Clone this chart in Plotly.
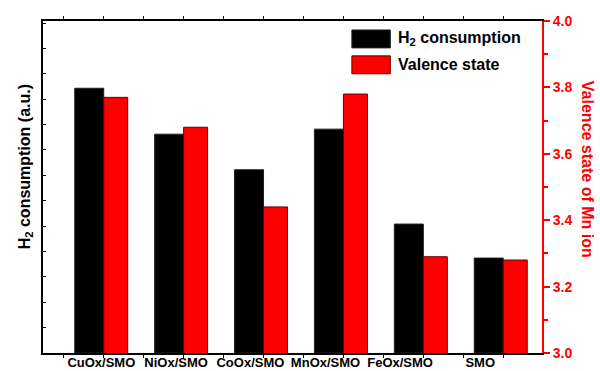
import numpy as np
import plotly.graph_objects as go

# Samples and measured quantities
samples = ["CuOx/SMO", "NiOx/SMO", "CoOx/SMO", "MnOx/SMO", "FeOx/SMO", "SMO"]
h2_consumption = [10.43, 8.62, 7.22, 8.82, 5.08, 3.74]      # arbitrary units
valence_state = [3.77, 3.68, 3.44, 3.78, 3.29, 3.28]        # Mn oxidation state

FONT = "Liberation Sans, Arial, sans-serif"
RED = "#FF0000"

x_pos = np.arange(len(samples))

fig = go.Figure()
fig.add_trace(go.Bar(
    x=x_pos, y=h2_consumption, name="H<sub>2</sub> consumption",
    marker=dict(color="black", line=dict(color="#222", width=1)),
    offset=-0.363, width=0.363, showlegend=False,
))
fig.add_trace(go.Bar(
    x=x_pos, y=valence_state, name="Valence state", yaxis="y2",
    marker=dict(color=RED, line=dict(color="#600", width=1)),
    offset=0.0, width=0.30, showlegend=False,
))

# category labels sit slightly left of each bar pair
label_shift = [-0.03, -0.094, -0.164, -0.224, -0.291, -0.288]
label_pos = [i + s for i, s in enumerate(label_shift)]

xr = [-0.76, 5.485]
fig.update_layout(
    width=600, height=371,
    margin=dict(l=43, r=58, t=21, b=18, autoexpand=False),
    paper_bgcolor="white", plot_bgcolor="white",
    barmode="overlay",
    font=dict(family=FONT, weight="bold", color="black"),
    xaxis=dict(
        range=xr, showgrid=False, zeroline=False, automargin=False,
        showline=True, linecolor="black", linewidth=2, mirror="ticks",
        tickvals=list(np.arange(-0.5, 5.01, 0.5)), showticklabels=False,
        ticks="outside", ticklen=3, tickwidth=1, tickcolor="black",
    ),
    xaxis2=dict(
        range=xr, overlaying="x", side="bottom", anchor="y",
        automargin=False,
        showgrid=False, zeroline=False, showline=False, ticks="",
        tickvals=label_pos, ticktext=samples,
        tickfont=dict(family=FONT, size=13, color="black", weight="bold"),
    ),
    yaxis=dict(
        range=[0, 13.08], dtick=1, showgrid=False, zeroline=False,
        automargin=False,
        showline=True, linecolor="black", linewidth=2,
        showticklabels=False, ticks="inside", ticklen=3, tickwidth=1,
        tickcolor="black",
    ),
    yaxis2=dict(
        range=[3.0, 4.0], overlaying="y", side="right", anchor="x",
        automargin=False,
        dtick=0.2, tickformat=".1f", showgrid=False, zeroline=False,
        showline=True, linecolor=RED, linewidth=2,
        ticks="outside", ticklen=6, tickwidth=2, tickcolor=RED,
        minor=dict(dtick=0.1, ticks="outside", ticklen=4, tickwidth=2,
                   tickcolor=RED),
        tickfont=dict(family=FONT, size=14, color=RED, weight="bold"),
    ),
)

# a trace on xaxis2 so the label axis is rendered
fig.add_trace(go.Scatter(x=[xr[0]], y=[0], xaxis="x2", mode="markers",
                         marker=dict(opacity=0), showlegend=False,
                         hoverinfo="skip"))

# axis titles
fig.add_annotation(
    text="H<sub>2</sub> consumption (a.u.)", textangle=-90,
    xref="paper", yref="paper", x=-0.035, y=0.561,
    xanchor="center", yanchor="middle",
    showarrow=False, font=dict(family=FONT, size=16, color="black",
                                weight="bold"),
)
fig.add_annotation(
    text="Valence state of Mn ion", textangle=90,
    xref="paper", yref="paper", x=1.09, y=0.552,
    xanchor="center", yanchor="middle",
    showarrow=False, font=dict(family=FONT, size=16, color=RED,
                                weight="bold"),
)

# legend drawn with large swatches
legend_items = [("H<sub>2</sub> consumption", "black", "#222", 0.946),
                ("Valence state", RED, "#600", 0.868)]
for label, fill, edge, yc in legend_items:
    fig.add_shape(type="rect", xref="paper", yref="paper",
                  x0=0.619, x1=0.696, y0=yc - 0.027, y1=yc + 0.027,
                  fillcolor=fill, line=dict(color=edge, width=1))
    fig.add_annotation(text=label, xref="paper", yref="paper",
                       x=0.708, y=yc, xanchor="left", yanchor="middle",
                       showarrow=False,
                       font=dict(family=FONT, size=16, color="black",
                                 weight="bold"))

fig.write_html("out.html")
